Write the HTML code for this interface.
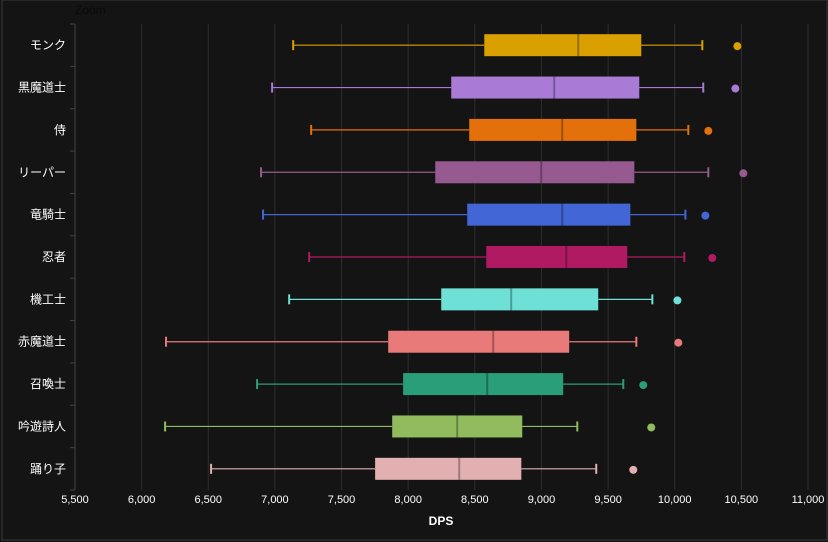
<!DOCTYPE html>
<html><head><meta charset="utf-8"><style>
body{margin:0;background:#141414;}
svg{display:block;font-family:"Liberation Sans","Noto Sans CJK JP",sans-serif;}
</style></head><body>
<svg id="c" width="828" height="542">
<rect x="2" y="0" width="825" height="540" fill="#141414" stroke="#3a3a3a" stroke-width="1"/>
<text x="75" y="14" fill="#111" font-size="12" stroke="#000" stroke-width="0" style="fill:#0a0a0a">Zoom</text>
<g id="grid"></g><g id="marks"></g><g id="axes"></g>
<text x="441" y="525" fill="#fff" font-size="12" font-weight="bold" text-anchor="middle">DPS</text>
</svg>
<script>
const categories=["モンク","黒魔道士","侍","リーパー","竜騎士","忍者","機工士","赤魔道士","召喚士","吟遊詩人","踊り子"];
const whiskerLow=[7137,6979,7272,6896,6911,7257,7107,6183,6866,6176,6521];
const q1=[8571,8323,8458,8203,8443,8586,8248,7850,7962,7880,7752];
const median=[9276,9096,9156,8998,9156,9186,8773,8638,8593,8368,8383];
const q3=[9749,9734,9712,9697,9667,9644,9426,9208,9163,8856,8849];
const whiskerHigh=[10207,10214,10102,10252,10080,10072,9832,9712,9614,9269,9411];
const outliers=[10470,10455,10252,10515,10230,10282,10020,10027,9764,9824,9689];
const colors=["#d9a000","#a97bd6","#e3700a","#965a90","#4266d6","#b01a62","#6fe0d6","#e87a7a","#2a9e78","#90bc5e","#e2b0b0"];
const ticks=[5500,6000,6500,7000,7500,8000,8500,9000,9500,10000,10500,11000];
const X0=75,X1=808,Y0=24,Y1=490,xmin=5500,xmax=11000;
const x=v=>X0+(v-xmin)/(xmax-xmin)*(X1-X0);
const band=(Y1-Y0)/categories.length;
const yc=i=>Y0+band*(i+0.5);
const NS="http://www.w3.org/2000/svg";
function mk(p,t,a){const e=document.createElementNS(NS,t);for(const k in a)e.setAttribute(k,a[k]);p.appendChild(e);return e;}
const G=document.getElementById('grid'),M=document.getElementById('marks'),A=document.getElementById('axes');
ticks.forEach((t,i)=>{
 const gl=mk(G,'line',{x1:x(t),x2:x(t),y1:Y0,y2:Y1,stroke:'#2e2e2e','stroke-width':1});
 
 
 const tl=mk(A,'text',{x:x(t),y:503,fill:'#fff','font-size':11,'text-anchor':'middle'});
 tl.textContent=t.toLocaleString('en-US');
 
 
});
const ax=mk(A,'line',{x1:X0,x2:X0,y1:Y0,y2:Y1,stroke:'#444','stroke-width':1});


for(let i=0;i<=categories.length;i++){
 const tk=mk(A,'line',{x1:X0-5,x2:X0,y1:Y0+band*i,y2:Y0+band*i,stroke:'#444'});
 
 
}
categories.forEach((c,i)=>{
 const y=yc(i),col=colors[i];
 const lb=mk(A,'text',{x:66,y:y+4,fill:'#fff','font-size':12,'text-anchor':'end'});
 lb.textContent=c;
 
 
 const g=mk(M,'g',{});
 
 
 mk(g,'line',{x1:x(whiskerLow[i]),x2:x(q1[i]),y1:y,y2:y,stroke:col,'stroke-width':1.2});
 mk(g,'line',{x1:x(q3[i]),x2:x(whiskerHigh[i]),y1:y,y2:y,stroke:col,'stroke-width':1.2});
 mk(g,'line',{x1:x(whiskerLow[i]),x2:x(whiskerLow[i]),y1:y-5,y2:y+5,stroke:col,'stroke-width':2});
 mk(g,'line',{x1:x(whiskerHigh[i]),x2:x(whiskerHigh[i]),y1:y-5,y2:y+5,stroke:col,'stroke-width':2});
 mk(g,'rect',{x:x(q1[i]),y:y-11,width:x(q3[i])-x(q1[i]),height:22,fill:col});
 mk(g,'line',{x1:x(median[i]),x2:x(median[i]),y1:y-11,y2:y+11,stroke:'rgba(0,0,0,0.3)','stroke-width':2});
 const o=mk(M,'circle',{cx:x(outliers[i]),cy:y+1,r:4,fill:col});
 
 
});
</script>
</body></html>
